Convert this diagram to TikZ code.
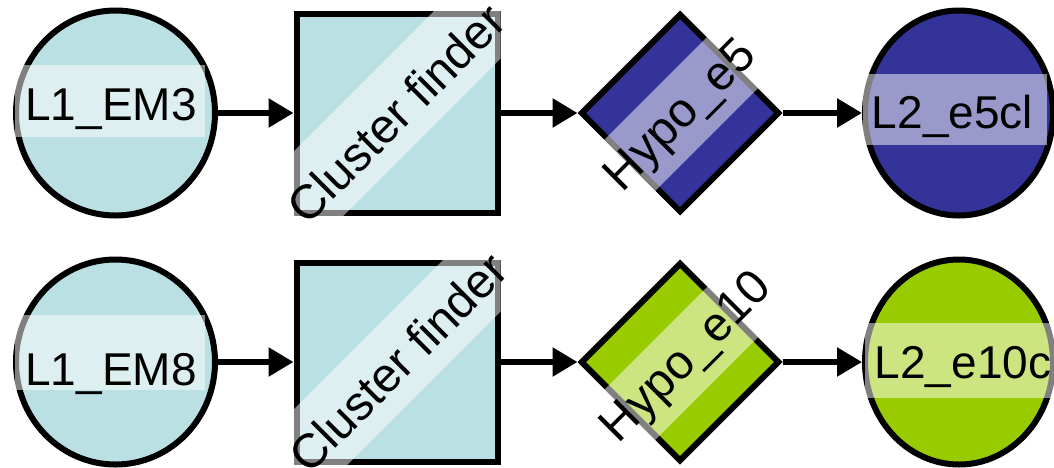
\documentclass[tikz,border=0pt]{standalone}
\usepackage{fontspec}
\setmainfont{Liberation Sans}
\usetikzlibrary{shapes.geometric,arrows.meta}
\definecolor{lb}{HTML}{BBE0E3}
\definecolor{db}{HTML}{333399}
\definecolor{gr}{HTML}{99CC00}
\begin{document}
\begin{tikzpicture}[x=1pt,y=-1pt,
  shp/.style={draw=black,line width=6pt,inner sep=0pt,outer sep=3pt},
  ellnode/.style={shp,ellipse,minimum height=205pt},
  boxnode/.style={shp,rectangle,minimum width=201pt,minimum height=199pt},
  dianode/.style={shp,diamond,minimum width=199pt,minimum height=199pt},
  band/.style={fill=white,fill opacity=0.5},
  lab/.style={inner sep=0pt,anchor=base,font=\fontsize{46}{48}\selectfont},
  rlab/.style={inner sep=0pt,rotate=45,font=\fontsize{48}{50}\selectfont},
  arr/.style={line width=5.5pt,-{Triangle[length=25pt,width=28pt]}}]
\useasboundingbox (0,0) rectangle (1054,467);

% ---- row 1 shapes
\node[ellnode,fill=lb,minimum width=199pt] (a1) at (115.5,113) {};
\node[boxnode,fill=lb] (b1) at (397,113) {};
\node[dianode,fill=db] (c1) at (680,113) {};
\node[ellnode,fill=db,minimum width=188pt] (d1) at (959,113) {};
% ---- row 2 shapes
\node[ellnode,fill=lb,minimum width=199pt] (a2) at (115.5,362) {};
\node[boxnode,fill=lb] (b2) at (397,362) {};
\node[dianode,fill=gr] (c2) at (680,362) {};
\node[ellnode,fill=gr,minimum width=188pt] (d2) at (959,362) {};

% ---- arrows
\draw[arr] (a1) -- (b1);
\draw[arr] (b1) -- (c1);
\draw[arr] (c1) -- (d1);
\draw[arr] (a2) -- (b2);
\draw[arr] (b2) -- (c2);
\draw[arr] (c2) -- (d2);

% ---- highlight bands
\fill[band] (15,65) rectangle (205,137);
\fill[band] (863,74) rectangle (1047,145);
\fill[band] (15,315) rectangle (205,390);
\fill[band] (865,323) rectangle (1060,398);
\begin{scope}
  \clip (b1.north west) rectangle (b1.south east);
  \fill[band] (247.5,197.5) -- (482.5,-37.5) -- (539.5,19.5) -- (304.5,254.5) -- cycle;
\end{scope}
\begin{scope}
  \clip (b2.north west) rectangle (b2.south east);
  \fill[band] (251.5,451.5) -- (481.5,221.5) -- (536,276) -- (306,506) -- cycle;
\end{scope}
\begin{scope}
  \clip (c1.north) -- (c1.east) -- (c1.south) -- (c1.west) -- cycle;
  \fill[band] (592,152) -- (722,22) -- (773,73) -- (643,203) -- cycle;
\end{scope}
\begin{scope}
  \clip (c2.north) -- (c2.east) -- (c2.south) -- (c2.west) -- cycle;
  \fill[band] (592,402) -- (722,272) -- (772.5,322.5) -- (642.5,452.5) -- cycle;
\end{scope}

% ---- texts
\node[lab] (ta1) at (111,120) {L1\_EM3};
\node[rlab] (tb1) at (396,113) {Cluster finder};
\node[rlab] (tc1) at (682,117) {Hypo\_e5};
\node[lab] (td1) at (952.5,128) {L2\_e5cl};
\node[lab] (ta2) at (111,385) {L1\_EM8};
\node[rlab] (tb2) at (398,362) {Cluster finder};
\node[rlab] (tc2) at (688,359) {Hypo\_e10};
\node[lab] (td2) at (963,378) {L2\_e10c};
\end{tikzpicture}
\end{document}
